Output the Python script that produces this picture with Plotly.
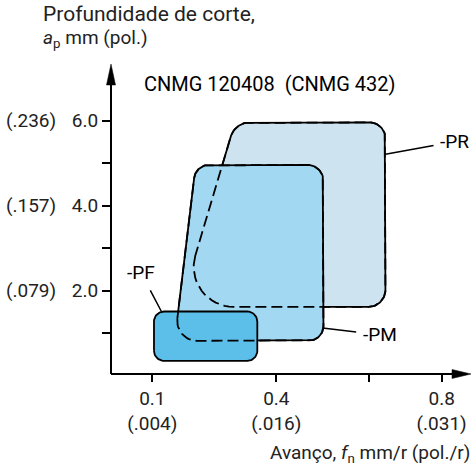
import math
import plotly.graph_objects as go

# ---------------- data ----------------
chipbreakers = ["-PF", "-PM", "-PR"]
feed_left_bottom = [0.104, 0.154, 0.167]   # mm/r, left edge at lowest depth
feed_left_top = [0.104, 0.205, 0.300]      # mm/r, left edge at highest depth
feed_right = [0.354, 0.514, 0.664]         # mm/r
depth_bottom = [0.35, 0.82, 1.62]          # mm
depth_top = [1.51, 4.96, 5.96]             # mm

label_feed = [0.073, 0.650, 0.831]
label_depth = [2.42, 0.96, 5.51]
pointer_feed = [0.122, 0.512, 0.664]
pointer_depth = [1.51, 1.12, 5.21]

x_tick_vals = [0.1, 0.4, 0.625, 0.8]
x_tick_mm = ["0.1", "0.4", "", "0.8"]
x_tick_inch = ["(.004)", "(.016)", "", "(.031)"]
y_tick_vals = [1, 2, 3, 4, 5, 6]
y_tick_mm = [" ", "2.0", " ", "4.0", " ", "6.0"]
y_tick_inch = ["", "(.079)", "", "(.157)", "", "(.236)"]

title_text = "CNMG 120408  (CNMG 432)"
y_title = ["Profundidade de corte,", "<i>a</i><sub>p</sub> mm (pol.)"]
x_title = "Avanço, <i>f</i><sub>n</sub> mm/r (pol./r)"

# ---------------- styling / layout ----------------
W, H = 475, 468
ML, MR, MT, MB = 111, 13, 80, 94
PW, PH = W - ML - MR, H - MT - MB
PX_PER_X, PX_PER_Y = 413.3, 42.5
X_RANGE = [0.0, PW / PX_PER_X]
Y_RANGE = [0.04, 0.04 + PH / PX_PER_Y]

fills = ["#5bbfea", "#a3d8f2", "#cde3f0"]
corner_px = [[10, 10, 10, 10], [20, 15, 16, 15], [40, 17, 16, 20]]  # bl, br, tr, tl
FONT = "Roboto"
TXT = "#222222"
LW = 1.8
DASH = "11px,5px"


def rounded(verts, radii, n=16):
    """verts in data coords; radii in px. Returns data-coord path."""
    P = [((x - X_RANGE[0]) * PX_PER_X, (y - Y_RANGE[0]) * PX_PER_Y) for x, y in verts]
    out = []
    m = len(P)
    for i in range(m):
        vx, vy = P[i]
        px, py = P[i - 1]
        nx, ny = P[(i + 1) % m]
        a = (px - vx, py - vy)
        b = (nx - vx, ny - vy)
        la, lb = math.hypot(*a), math.hypot(*b)
        u1 = (a[0] / la, a[1] / la)
        u2 = (b[0] / lb, b[1] / lb)
        th = math.acos(max(-1, min(1, u1[0] * u2[0] + u1[1] * u2[1])))
        r = radii[i]
        d = r / math.tan(th / 2)
        bis = (u1[0] + u2[0], u1[1] + u2[1])
        lbis = math.hypot(*bis)
        bis = (bis[0] / lbis, bis[1] / lbis)
        h = r / math.sin(th / 2)
        cx, cy = vx + bis[0] * h, vy + bis[1] * h
        t1 = (vx + u1[0] * d, vy + u1[1] * d)
        t2 = (vx + u2[0] * d, vy + u2[1] * d)
        a1 = math.atan2(t1[1] - cy, t1[0] - cx)
        a2 = math.atan2(t2[1] - cy, t2[0] - cx)
        da = a2 - a1
        while da > math.pi:
            da -= 2 * math.pi
        while da < -math.pi:
            da += 2 * math.pi
        for k in range(n + 1):
            ang = a1 + da * k / n
            out.append((cx + r * math.cos(ang), cy + r * math.sin(ang)))
    out.append(out[0])
    xs = [X_RANGE[0] + p[0] / PX_PER_X for p in out]
    ys = [Y_RANGE[0] + p[1] / PX_PER_Y for p in out]
    return xs, ys


paths = []
for i in range(3):
    verts = [(feed_left_bottom[i], depth_bottom[i]), (feed_right[i], depth_bottom[i]),
             (feed_right[i], depth_top[i]), (feed_left_top[i], depth_top[i])]
    paths.append(rounded(verts, corner_px[i]))

fig = go.Figure()


def area(i, filled, dash=None):
    xs, ys = paths[i]
    fig.add_trace(go.Scatter(
        x=xs, y=ys, mode="lines",
        fill="toself" if filled else None,
        fillcolor=fills[i] if filled else None,
        line=dict(color="black", width=LW, dash=dash or "solid"),
        hoverinfo="skip", showlegend=False, name=chipbreakers[i]))


area(2, True)            # PR
area(1, True)            # PM
area(2, False, DASH)     # PR outline behind PM
area(0, True)            # PF
area(1, False, DASH)     # PM outline behind PF


def paper_x(px):
    return (px - ML) / PW


def paper_y(py):
    return (H - MB - py) / PH


shapes = []
# axes lines with arrowheads
shapes.append(dict(type="line", xref="paper", yref="paper", x0=0, y0=0, x1=paper_x(460), y1=0,
                   line=dict(color="black", width=2)))
shapes.append(dict(type="line", xref="paper", yref="paper", x0=0, y0=0, x1=0, y1=paper_y(75),
                   line=dict(color="black", width=2)))
ay0 = H - MB
shapes.append(dict(type="path", xref="paper", yref="paper",
                   path=f"M{paper_x(452)},{paper_y(ay0 - 4.5)} L{paper_x(471)},{paper_y(ay0)} "
                        f"L{paper_x(452)},{paper_y(ay0 + 4.5)} Z",
                   fillcolor="black", line=dict(color="black", width=0.5)))
shapes.append(dict(type="path", xref="paper", yref="paper",
                   path=f"M{paper_x(ML - 4.5)},{paper_y(85)} L{paper_x(ML)},{paper_y(64)} "
                        f"L{paper_x(ML + 4.5)},{paper_y(85)} Z",
                   fillcolor="black", line=dict(color="black", width=0.5)))

x_tick_text = [f"{m}<br>{i}" if m else " " for m, i in zip(x_tick_mm, x_tick_inch)]

ann = []
for v, t in zip(y_tick_vals, y_tick_inch):
    if t:
        ann.append(dict(x=paper_x(58), y=v, xref="paper", yref="y", text=t, showarrow=False,
                        xanchor="right", yanchor="middle", font=dict(size=19, color=TXT, family=FONT)))
ann.append(dict(x=paper_x(142), y=paper_y(84), xref="paper", yref="paper", text=title_text,
                showarrow=False, xanchor="left", yanchor="middle",
                font=dict(size=20, color="black", family=FONT)))
ann.append(dict(x=paper_x(41), y=paper_y(14), xref="paper", yref="paper", text=y_title[0],
                showarrow=False, xanchor="left", yanchor="middle",
                font=dict(size=21, color=TXT, family=FONT)))
ann.append(dict(x=paper_x(41), y=paper_y(39), xref="paper", yref="paper", text=y_title[1],
                showarrow=False, xanchor="left", yanchor="middle",
                font=dict(size=19, color=TXT, family=FONT)))
ann.append(dict(x=paper_x(472), y=paper_y(453), xref="paper", yref="paper", text=x_title,
                showarrow=False, xanchor="right", yanchor="middle",
                font=dict(size=19, color=TXT, family=FONT)))
for i in range(3):
    ann.append(dict(x=pointer_feed[i], y=pointer_depth[i], ax=label_feed[i], ay=label_depth[i],
                    xref="x", yref="y", axref="x", ayref="y", text=chipbreakers[i],
                    showarrow=True, arrowhead=0, arrowwidth=1.5, arrowcolor="black",
                    startstandoff=5,
                    font=dict(size=19, color="black", family=FONT)))

fig.update_layout(
    width=W, height=H, margin=dict(l=ML, r=MR, t=MT, b=MB, pad=0, autoexpand=False),
    plot_bgcolor="white", paper_bgcolor="white",
    shapes=shapes, annotations=ann,
    xaxis=dict(range=X_RANGE, showgrid=False, zeroline=False, showline=False,
               automargin=False,
               tickmode="array", tickvals=x_tick_vals, ticktext=x_tick_text,
               ticks="outside", ticklen=7, tickwidth=1.5, tickcolor="black",
               ticklabelstandoff=0,
               tickfont=dict(size=19, color=TXT, family=FONT)),
    yaxis=dict(range=Y_RANGE, showgrid=False, zeroline=False, showline=False,
               automargin=False,
               tickmode="array", tickvals=y_tick_vals, ticktext=y_tick_mm,
               ticks="outside", ticklen=8, tickwidth=1.5, tickcolor="black",
               tickfont=dict(size=19, color=TXT, family=FONT)),
)

fig.write_html("out.html", config={"displayModeBar": False},
               post_script="document.body.style.margin='0';document.body.style.overflow='hidden';")
